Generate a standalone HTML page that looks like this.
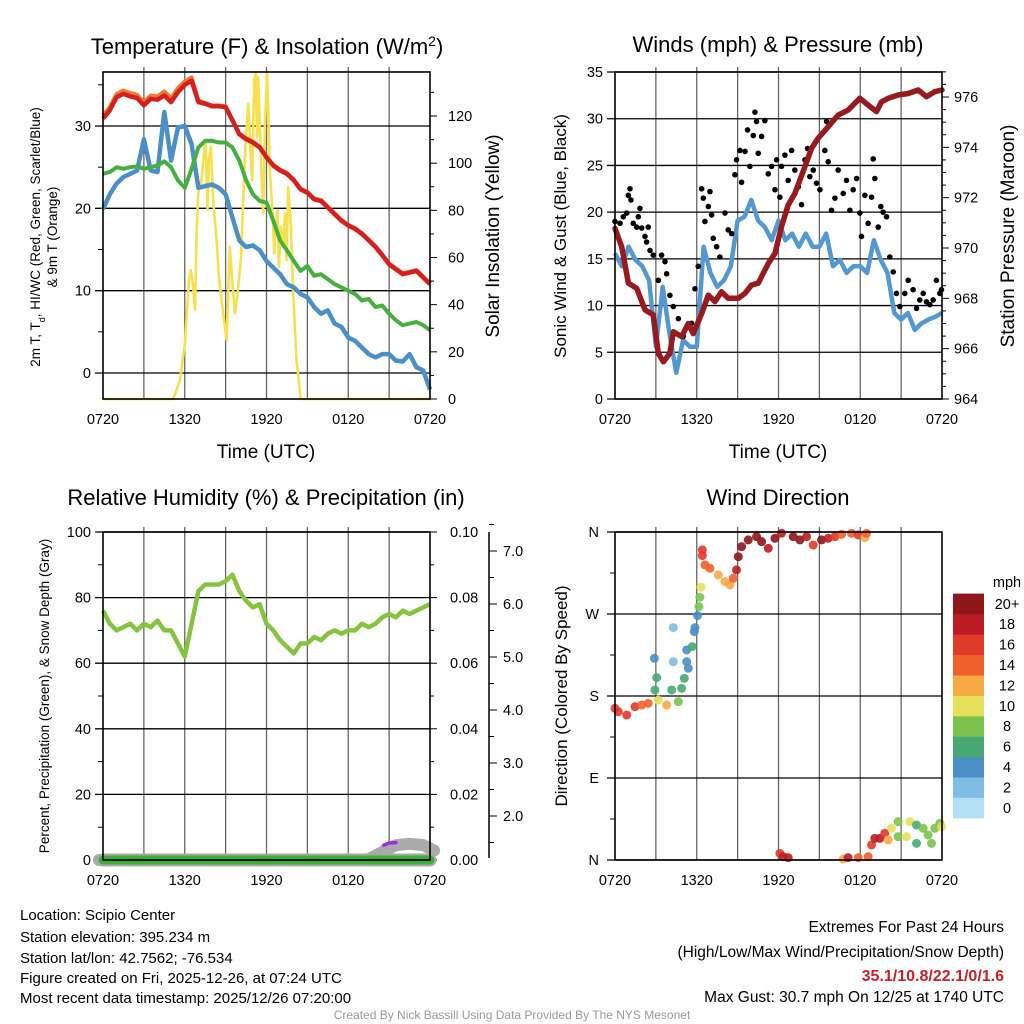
<!DOCTYPE html>
<html><head><meta charset="utf-8"><style>
html,body{margin:0;padding:0;background:#fff;}
svg{display:block;font-family:"Liberation Sans",Arial,sans-serif;}
</style></head><body>
<svg id="chart" width="1024" height="1024" viewBox="0 0 1024 1024" xmlns="http://www.w3.org/2000/svg">
<rect x="0" y="0" width="1024" height="1024" fill="#fff"/>
<text x="267" y="54" font-size="22" text-anchor="middle">Temperature (F) &amp; Insolation (W/m<tspan baseline-shift="super" font-size="14">2</tspan>)</text>
<text x="778" y="52" font-size="22" text-anchor="middle">Winds (mph) &amp; Pressure (mb)</text>
<text x="266" y="505" font-size="22" text-anchor="middle">Relative Humidity (%) &amp; Precipitation (in)</text>
<text x="778" y="505" font-size="22" text-anchor="middle">Wind Direction</text>
<text x="266" y="458" font-size="19" text-anchor="middle">Time (UTC)</text>
<text x="778" y="458" font-size="19" text-anchor="middle">Time (UTC)</text>
<text transform="translate(40,237) rotate(-90)" font-size="13.5" text-anchor="middle">2m T, T<tspan baseline-shift="sub" font-size="9">d</tspan>, HI/WC (Red, Green, Scarlet/Blue)</text>
<text transform="translate(57,237) rotate(-90)" font-size="13.5" text-anchor="middle">&amp; 9m T (Orange)</text>
<text transform="translate(499,236) rotate(-90)" font-size="19" text-anchor="middle">Solar Insolation (Yellow)</text>
<text transform="translate(566,236) rotate(-90)" font-size="17" text-anchor="middle">Sonic Wind &amp; Gust (Blue, Black)</text>
<text transform="translate(1014,236) rotate(-90)" font-size="19" text-anchor="middle">Station Pressure (Maroon)</text>
<text transform="translate(49,696) rotate(-90)" font-size="13.5" text-anchor="middle">Percent, Precipitation (Green), &amp; Snow Depth (Gray)</text>
<text transform="translate(567,696) rotate(-90)" font-size="17" text-anchor="middle">Direction (Colored By Speed)</text>
<g id="layer"></g>
<g font-size="15">
<text x="20" y="920">Location: Scipio Center</text>
<text x="20" y="942">Station elevation: 395.234 m</text>
<text x="20" y="963">Station lat/lon: 42.7562; -76.534</text>
<text x="20" y="983">Figure created on Fri, 2025-12-26, at 07:24 UTC</text>
<text x="20" y="1003">Most recent data timestamp: 2025/12/26 07:20:00</text>
</g>
<g font-size="15.5" text-anchor="end">
<text x="1004" y="932">Extremes For Past 24 Hours</text>
<text x="1004" y="957">(High/Low/Max Wind/Precipitation/Snow Depth)</text>
<text x="1004" y="981" fill="#c8202a" font-weight="bold" font-size="16">35.1/10.8/22.1/0/1.6</text>
<text x="1004" y="1002">Max Gust: 30.7 mph On 12/25 at 1740 UTC</text>
</g>
<text x="512" y="1019" font-size="12" fill="#999" text-anchor="middle">Created By Nick Bassill Using Data Provided By The NYS Mesonet</text>
</svg>
<script>
// ---------- DATA ----------
var halfHours = [];
for (var i = 0; i <= 48; i++) halfHours.push(i / 2);
var tempRed = [30.9,31.9,33.5,33.9,33.6,33.4,32.5,33.3,33.2,33.7,32.9,34.1,35.0,35.5,32.9,32.7,32.4,32.4,32.3,30.7,29.0,28.4,28.0,27.4,26.2,25.2,24.6,24.2,23.4,22.3,21.9,21.1,20.9,20.1,19.3,18.5,17.9,17.5,16.9,16.1,15.3,14.3,13.2,12.6,12.0,12.2,12.4,11.6,10.8];
var tempOrange = [31.3,32.3,33.9,34.3,34.0,33.8,32.9,33.7,33.6,34.2,33.4,34.6,35.4,35.9,33.1,32.8,32.5,32.5,32.4,30.8,29.1,28.5,28.1,27.5,26.3,25.3,24.7,24.3,23.5,22.4,22.0,21.2,21.0,20.2,19.4,18.6,18.0,17.6,17.0,16.2,15.4,14.4,13.3,12.7,12.1,12.3,12.5,11.7,10.9];
var tempGreen = [24.2,24.4,25.0,24.8,25.0,25.1,24.8,25.0,25.2,25.7,25.0,23.4,22.5,24.8,27.4,28.2,28.2,28.0,28.0,27.4,25.8,23.4,21.7,20.9,20.7,18.5,16.1,14.9,13.6,12.4,13.0,11.8,12.0,11.4,10.8,10.4,10.0,9.6,8.8,9.0,8.0,8.2,7.2,6.4,5.8,6.0,6.2,5.8,5.2];
var tempBlue = [19.9,21.7,23.0,23.8,24.2,24.6,28.4,24.6,24.4,31.7,25.8,29.8,30.0,27.8,22.5,22.7,22.9,22.5,21.7,18.9,16.1,15.3,15.5,14.9,13.6,12.8,12.0,10.8,10.4,9.6,9.2,8.0,7.2,7.6,6.0,5.6,4.3,3.9,3.1,2.3,1.9,2.3,2.3,1.5,1.4,2.3,0.7,0.3,-2.0];
var solarT = [0,5.16,5.65,6.01,6.31,6.45,6.62,6.75,6.87,6.99,7.23,7.36,7.53,7.67,7.77,7.92,8.09,8.34,8.51,8.82,9.07,9.31,9.48,9.68,9.88,10.12,10.29,10.46,10.66,10.85,10.95,11.1,11.2,11.32,11.39,11.59,11.76,11.88,12.05,12.25,12.44,12.57,12.66,12.81,12.91,13.05,13.23,13.35,13.47,13.59,13.79,13.96,14.2,14.52,14.81,24];
var solarV = [0,0,8.0,23.6,50.4,54.7,47.6,37.8,70.2,87.1,92.8,101.3,109.8,80.1,101.3,107,84,67.4,51.8,36.3,25,64.6,50.4,36.3,44.9,58.9,84,108.4,125.3,102.7,92.8,135.2,138,111,136.6,101.3,78.7,115.4,138,97,78.7,61.7,73,80.1,56,73,64.6,78.7,58.9,90,73,44.9,16.5,0,0,0];
var windT = halfHours;
var windV = [15.6,14.2,16.3,14.9,14.2,12.7,5.6,12.0,7.0,2.8,6.3,5.6,5.6,16.3,13.5,12.0,12.7,14.2,19.1,19.5,21.3,19.1,18.4,17.0,19.1,17.0,17.7,16.3,17.7,16.3,16.3,17.7,14.2,14.9,13.5,14.2,14.2,13.5,17.0,14.9,13.5,9.2,8.5,9.2,7.4,8.1,8.5,8.8,9.2];
var gustT = [0,0.37,0.61,0.86,0.98,1.1,1.17,1.34,1.59,1.71,1.83,1.96,2.2,2.32,2.44,2.57,2.81,3.18,3.42,3.67,3.79,4.03,4.28,4.65,5.01,5.38,5.62,5.87,6.11,6.36,6.48,6.6,6.85,6.97,7.09,7.21,7.46,7.7,8.07,8.31,8.56,8.8,8.92,9.17,9.29,9.54,9.73,9.9,10.15,10.27,10.39,10.51,10.76,11.0,11.25,11.49,11.74,11.86,12.1,12.22,12.47,12.71,12.96,13.2,13.45,13.69,13.94,14.13,14.3,14.55,14.79,15.04,15.4,15.53,15.65,15.89,16.14,16.38,16.75,16.99,17.24,17.48,17.73,17.97,18.09,18.34,18.58,18.83,18.95,19.07,19.32,19.51,19.68,19.93,20.17,20.42,20.66,20.9,21.27,21.52,21.88,22.13,22.37,22.62,22.86,23.11,23.35,23.59,23.84,23.96];
var gustV = [19.0,18.8,19.5,19.9,21.8,22.5,21.3,18.8,18.4,19.5,20.4,18.3,17.4,16.8,18.4,15.9,15.4,12.7,15.4,14.7,13.4,11.1,9.9,8.6,6.7,7.7,8.1,11.8,14.2,22.5,21.5,19.0,20.6,22.2,19.7,17.2,16.3,15.2,19.9,18.1,17.7,24.0,25.6,26.6,23.2,26.5,28.8,24.9,28.2,30.7,29.7,26.3,28.1,29.8,24.1,24.9,22.4,25.6,21.6,24.9,26.1,23.4,26.6,24.5,22.7,20.8,25.6,26.8,23.8,24.5,23.1,22.4,26.6,29.7,25.4,20.2,21.5,24.5,22.0,23.4,20.2,22.4,23.6,19.9,17.4,21.8,18.8,21.6,25.7,23.6,18.4,20.6,20.0,19.5,15.2,13.6,11.3,9.9,11.3,12.7,11.7,9.7,10.6,11.3,10.4,10.1,10.6,12.7,11.3,11.7];
var presT = [0,0.49,0.98,1.59,2.2,2.81,3.18,3.55,4.03,4.28,4.89,5.38,5.75,6.36,6.85,7.33,7.82,8.31,9.05,9.54,10.02,10.51,11.25,11.74,12.22,12.71,13.2,13.94,14.43,14.91,15.65,16.38,17.11,17.97,18.58,19.19,19.56,20.05,20.78,21.52,22.25,22.86,23.47,24];
var presV = [970.78,970.05,968.6,968.4,967.54,967.34,965.82,965.48,965.82,966.67,966.48,967.0,966.6,967.4,968.13,967.87,968.26,968.0,968.0,968.2,968.53,968.6,969.39,969.79,970.85,971.71,972.17,973.23,973.96,974.36,974.82,975.28,975.48,975.95,975.68,975.42,975.81,975.95,976.08,976.14,976.28,976.01,976.21,976.28];
var rhT = halfHours;
var rhV = [76,72,70,71,72,70,72,71,73,70,70,66,62,72,82,84,84,84,85,87,82,79,77,78,72,70,67,65,63,66,66,68,67,69,70,69,70,70,72,71,72,74,75,74,76,75,76,77,78];
var precipT = [0,24];
var precipV = [0,0];
var snowT = [-0.3,18,19.5,20.5,21.5,22.5,23.5,24.3];
var snowV = [0,0,0.03,0.3,0.55,0.6,0.55,0.35];
var dirT = [0,0.24,0.86,1.47,1.96,2.44,2.93,3.06,2.89,3.18,3.79,4.16,4.65,4.28,4.28,4.89,5.09,5.38,5.26,5.26,5.67,5.82,5.87,6.06,6.16,6.23,6.31,6.41,6.41,6.6,6.97,7.58,8.07,8.44,8.68,8.92,9.05,9.29,9.78,10.39,10.76,11.25,11.74,12.22,13.08,13.57,14.06,14.55,15.16,15.65,16.14,16.63,17.36,17.85,18.34,18.46,12.1,12.35,12.71,16.75,17.11,17.85,18.58,18.83,19.07,19.44,19.8,20.05,20.29,20.78,20.78,21.39,21.64,22.13,22.13,22.62,22.98,23.23,23.47,23.84,23.96];
var dirV = [166.5,162.8,159.1,168.3,170.1,171.9,186.6,200.2,221.4,175.6,170.1,186.6,173.8,217.7,255.1,188.4,199.4,210.4,217.7,230.5,234.2,250.7,255.1,268.3,278.2,288.4,299.4,340.4,334.1,323.9,320.2,312.9,305.6,301.9,309.2,318.4,332.9,343.9,351.3,354.9,349.4,342.1,353.1,358.6,354.9,351.3,354.9,345.7,351.3,353.1,354.9,357.5,358.6,356.8,353.8,358.6,7.3,3.7,2.6,1.1,2.6,2.6,3.7,16.5,23.8,23.8,29.3,22,34.8,42.1,25.6,25.6,42.1,38.4,18.3,34.8,27.5,18.3,34.8,40.3,36.6];
var dirSpd = [17,17,16,17,15,14,7,6,4,10,12,6,8,2,2,6,6,4,4,4,6,4,4,4,8,8,10,17,16,14,14,12,12,12,15,18,20,20,20,21,20,19,20,18,20,20,18,17,20,18,17,15,15,17,12,15,17,18,19,12,18,15,14,16,19,18,16,12,10,8,8,10,10,6,6,8,8,8,8,8,10];
var timeTickLabels = ["0720","1320","1920","0120","0720"];
var tempTicks = [0,10,20,30];
var solarTicks = [0,20,40,60,80,100,120];
var windTicks = [0,5,10,15,20,25,30,35];
var presTicks = [964,966,968,970,972,974,976];
var rhTicks = [0,20,40,60,80,100];
var precipTicks = ["0.00","0.02","0.04","0.06","0.08","0.10"];
var snowTicks = ["2.0","3.0","4.0","5.0","6.0","7.0"];
var dirTickLabels = ["N","E","S","W","N"];
var speedBins = ["0","2","4","6","8","10","12","14","16","18","20+"];
var speedColors = ["#b3e0f5","#80bde5","#4a8fc5","#48a874","#7cc24c","#e5e05a","#f7a944","#f0602a","#e03a2a","#bb1c24","#8e151a"];

// ---------- HELPERS ----------
var NS = "http://www.w3.org/2000/svg";
var layer = document.getElementById("layer");
function mk(tag, attrs, parent) {
  var e = document.createElementNS(NS, tag);
  for (var k in attrs) e.setAttribute(k, attrs[k]);
  (parent || layer).appendChild(e);
  return e;
}
function lin(d0, d1, r0, r1) { return function (v) { return r0 + (v - d0) * (r1 - r0) / (d1 - d0); }; }
function pathD(ts, vs, sx, sy) {
  var d = "";
  var n = Math.min(ts.length, vs.length);
  for (var i = 0; i < n; i++) d += (i ? "L" : "M") + sx(ts[i]).toFixed(1) + "," + sy(vs[i]).toFixed(1);
  return d;
}
function txt(x, y, s, size, anchor, parent) {
  var t = mk("text", {x: x, y: y, "font-size": size, "text-anchor": anchor || "middle"}, parent);
  t.textContent = s;
  return t;
}
function tick(x1, x2, y, P, g) {
  if (y < P.t - 0.5 || y > P.b + 0.5) return;
  mk("line", {x1: x1, x2: x2, y1: y, y2: y, stroke: "#000"}, g);
}

var P1 = {l: 103, r: 430, t: 72, b: 399};
var P2 = {l: 615, r: 942, t: 72, b: 399};
var P3 = {l: 103, r: 430, t: 532, b: 860};
var P4 = {l: 615, r: 942, t: 532, b: 860};

function timeGrid(P, g) {
  var sx = lin(0, 24, P.l, P.r);
  for (var h = 3; h < 24; h += 3) {
    var vl = mk("line", {x1: sx(h), x2: sx(h), y1: P.t - 5, y2: P.b, stroke: "#666", "stroke-width": 1.3}, g);
    
    
  }
  for (var j = 0; j < timeTickLabels.length; j++) {
    var tl = txt(sx(j * 6), P.b + 25, timeTickLabels[j], 14.5, "middle", g);
    
    
  }
  return sx;
}
function frame(P, g) {
  var f = mk("rect", {x: P.l, y: P.t, width: P.r - P.l, height: P.b - P.t, fill: "none", stroke: "#000", "stroke-width": 1.6}, g);
  
  
}

// ---------- PANEL 1 ----------
var g1 = mk("g", {});


var sx1 = timeGrid(P1, g1);
var sy1 = lin(0, 30, 373, 126);
var syS = lin(0, 120, 399, 116);
tempTicks.forEach(function (v) {
  mk("line", {x1: P1.l - 8, x2: P1.r, y1: sy1(v), y2: sy1(v), stroke: "#000", "stroke-width": 1.3}, g1);
  var l = txt(P1.l - 12, sy1(v) + 5, String(v), 14.5, "end", g1);
  
  
});
[-5, 5, 15, 25, 35].forEach(function (v) { tick(P1.l - 5, P1.l, sy1(v), P1, g1); });
solarTicks.forEach(function (v) {
  tick(P1.r, P1.r + 7, syS(v), P1, g1);
  tick(P1.r, P1.r + 4, syS(v + 10), P1, g1);
  var l = txt(P1.r + 18, syS(v) + 5, String(v), 14.5, "start", g1);
  
  
});
var ySol = mk("path", {d: pathD(solarT, solarV, sx1, syS), fill: "none", stroke: "#f7e04e", "stroke-width": 2.6, "stroke-linejoin": "round"}, g1);


var lB = mk("path", {d: pathD(halfHours, tempBlue, sx1, sy1), fill: "none", stroke: "#4a8fc8", "stroke-width": 4.5, "stroke-linejoin": "round"}, g1);


var lG = mk("path", {d: pathD(halfHours, tempGreen, sx1, sy1), fill: "none", stroke: "#45b03e", "stroke-width": 4, "stroke-linejoin": "round"}, g1);


var lO = mk("path", {d: pathD(halfHours, tempOrange, sx1, sy1), fill: "none", stroke: "#f07a30", "stroke-width": 4, "stroke-linejoin": "round"}, g1);


var lR = mk("path", {d: pathD(halfHours, tempRed, sx1, sy1), fill: "none", stroke: "#d42020", "stroke-width": 4.5, "stroke-linejoin": "round"}, g1);


frame(P1, g1);

// ---------- PANEL 2 ----------
var g2 = mk("g", {});


var sx2 = timeGrid(P2, g2);
var sy2 = lin(0, 35, 399, 72);
var syP = lin(964, 976, 399, 97);
windTicks.forEach(function (v) {
  mk("line", {x1: P2.l - 8, x2: P2.r, y1: sy2(v), y2: sy2(v), stroke: "#000", "stroke-width": 1.3}, g2);
  var l = txt(P2.l - 12, sy2(v) + 5, String(v), 14.5, "end", g2);
  
  
});
presTicks.forEach(function (v) {
  tick(P2.r, P2.r + 7, syP(v), P2, g2);
  tick(P2.r, P2.r + 4, syP(v + 0.5), P2, g2);
  tick(P2.r, P2.r + 4, syP(v + 1), P2, g2);
  tick(P2.r, P2.r + 4, syP(v + 1.5), P2, g2);
  var l = txt(P2.r + 12, syP(v) + 5, String(v), 14.5, "start", g2);
  
  
});
var wl = mk("path", {d: pathD(windT, windV, sx2, sy2), fill: "none", stroke: "#5498d2", "stroke-width": 4.5, "stroke-linejoin": "round"}, g2);


for (var i = 0; i < gustT.length; i++) {
  var c = mk("circle", {cx: sx2(gustT[i]), cy: sy2(gustV[i]), r: 2.8, fill: "#000"}, g2);
  
  
}
var pl = mk("path", {d: pathD(presT, presV, sx2, syP), fill: "none", stroke: "#961a1e", "stroke-width": 5.5, "stroke-linejoin": "round", "stroke-linecap": "round"}, g2);


frame(P2, g2);

// ---------- PANEL 3 ----------
var g3 = mk("g", {});


var sx3 = timeGrid(P3, g3);
var sy3 = lin(0, 100, 860, 532);
var syPr = lin(0, 0.1, 860, 532);
var sySn = lin(2, 7, 816, 551);
var sySnow = lin(0, 1, 860, 833);
rhTicks.forEach(function (v, k) {
  mk("line", {x1: P3.l - 8, x2: P3.r, y1: sy3(v), y2: sy3(v), stroke: "#000", "stroke-width": 1.3}, g3);
  tick(P3.l - 5, P3.l, sy3(v + 10), P3, g3);
  var l = txt(P3.l - 12, sy3(v) + 5, String(v), 14.5, "end", g3);
  
  
  var pv = parseFloat(precipTicks[k]);
  tick(P3.r, P3.r + 7, syPr(pv), P3, g3);
  tick(P3.r, P3.r + 4, syPr(pv + 0.01), P3, g3);
  var l2 = txt(P3.r + 20, syPr(pv) + 5, precipTicks[k], 14.5, "start", g3);
  
  
});
var sAx = mk("line", {x1: 489, x2: 489, y1: 532, y2: 858, stroke: "#000", "stroke-width": 1.5}, g3);


snowTicks.forEach(function (s) {
  var v = parseFloat(s);
  mk("line", {x1: 489, x2: 497, y1: sySn(v), y2: sySn(v), stroke: "#000"}, g3);
  mk("line", {x1: 489, x2: 494, y1: sySn(v - 0.5), y2: sySn(v - 0.5), stroke: "#000"}, g3);
  var l = txt(503, sySn(v) + 5, s, 14.5, "start", g3);
  
  
});
mk("line", {x1: 489, x2: 494, y1: sySn(7.5), y2: sySn(7.5), stroke: "#000"}, g3);
var rl = mk("path", {d: pathD(rhT, rhV, sx3, sy3), fill: "none", stroke: "#86c440", "stroke-width": 4.5, "stroke-linejoin": "round"}, g3);


var sl = mk("path", {d: pathD(snowT, snowV, sx3, sySnow), fill: "none", stroke: "#aaa", "stroke-width": 12, "stroke-linejoin": "round", "stroke-linecap": "round"}, g3);


var prOut = mk("path", {d: pathD(precipT, precipV, sx3, syPr), fill: "none", stroke: "#aaa", "stroke-width": 13, "stroke-linecap": "round"}, g3);


var pr = mk("path", {d: pathD(precipT, precipV, sx3, syPr), fill: "none", stroke: "#3dae3a", "stroke-width": 9, "stroke-linecap": "round"}, g3);


var pu = mk("path", {d: "M" + sx3(20.6) + "," + (sy3(4.5)) + "L" + sx3(21.0) + "," + sy3(5.2) + "L" + sx3(21.5) + "," + sy3(5.3), fill: "none", stroke: "#9b30e0", "stroke-width": 3.5, "stroke-linecap": "round"}, g3);


mk("line", {x1: P3.l, x2: P3.r, y1: 860, y2: 860, stroke: "#000", "stroke-width": 1.3}, g3);
frame(P3, g3);

// ---------- PANEL 4 ----------
var g4 = mk("g", {});


var sx4 = timeGrid(P4, g4);
var sy4 = lin(0, 360, 860, 532);
dirTickLabels.forEach(function (s, k) {
  var v = k * 90;
  mk("line", {x1: P4.l - 8, x2: P4.r, y1: sy4(v), y2: sy4(v), stroke: "#000", "stroke-width": 1.3}, g4);
  tick(P4.l - 5, P4.l, sy4(v + 45), P4, g4);
  var l = txt(P4.l - 16, sy4(v) + 5, s, 14.5, "end", g4);
  
  
});
function binOf(s) { var b = Math.floor(s / 2); return Math.max(0, Math.min(10, b)); }
for (var i = 0; i < dirT.length; i++) {
  var c = mk("circle", {cx: sx4(dirT[i]), cy: sy4(dirV[i]), r: 4.5, fill: speedColors[binOf(dirSpd[i])], "fill-opacity": 0.9}, g4);
  
  
}
frame(P4, g4);
var cb = mk("g", {});


var bh = 20.4, by0 = 818;
for (var k = 0; k < speedBins.length; k++) {
  var r = mk("rect", {x: 953, y: by0 - (k + 1) * bh, width: 31, height: bh + 0.3, fill: speedColors[k]}, cb);
  
  
  var l = txt(1007, by0 - k * bh - bh / 2 + 5, speedBins[k], 14.5, "middle", cb);
  
  
}
var mph = txt(1007, 587, "mph", 14.5, "middle", cb);


</script>
</body></html>
